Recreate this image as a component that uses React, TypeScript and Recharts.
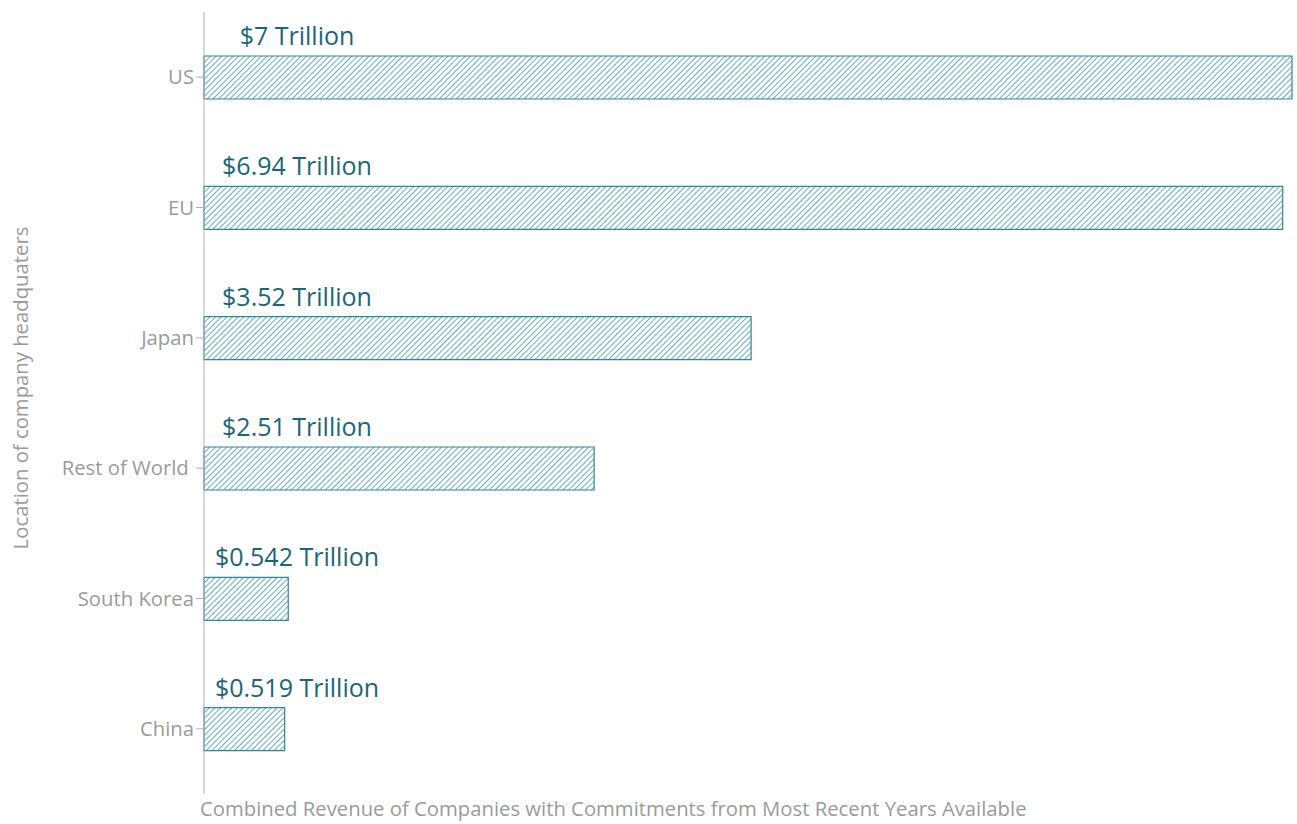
import React from "react";
import { Bar, BarChart, LabelList, XAxis, YAxis } from "recharts";

const regions = ["US", "EU", "Japan", "Rest of World\u00a0", "South Korea", "China"];
const revenue = [7, 6.94, 3.52, 2.51, 0.542, 0.519];
const revenueLabels = [
  "$7 Trillion",
  "$6.94 Trillion",
  "$3.52 Trillion",
  "$2.51 Trillion",
  "$0.542 Trillion",
  "$0.519 Trillion",
];

const data = regions.map((region, i) => ({
  region,
  revenue: revenue[i],
  label: revenueLabels[i],
}));

const FONT = "'Open Sans', Roboto, sans-serif";
const TEAL = "#2f8797";
const TEXT_TEAL = "#1b6576";
const GREY = "#9a9a9a";

const renderValueLabel = (props: any) => {
  const { x, y, value } = props;
  return (
    <text
      x={Number(x) + 93}
      y={Number(y) - 21}
      textAnchor="middle"
      dominantBaseline="central"
      fill={TEXT_TEAL}
      fontSize={25}
      fontFamily={FONT}
    >
      {value}
    </text>
  );
};

const renderYLabel = () => (
  <text
    x={20}
    y={388}
    transform="rotate(-90, 20, 388)"
    textAnchor="middle"
    dominantBaseline="central"
    fill={GREY}
    fontSize={20.3}
    fontFamily={FONT}
  >
    Location of company headquaters
  </text>
);

export default function App() {
  return (
    <div style={{ position: "absolute", left: 0, top: 0, background: "#fff" }}>
      <BarChart
        width={1297}
        height={824}
        data={data}
        layout="vertical"
        margin={{ top: 12, right: 5, bottom: 0, left: 0 }}
        barSize={43}
      >
        <defs>
          <pattern
            id="hatch"
            patternUnits="userSpaceOnUse"
            width={4}
            height={4}
            patternTransform="rotate(45)"
          >
            <rect width={4} height={4} fill="#ffffff" />
            <line x1={0} y1={0} x2={0} y2={4} stroke="#55a7b5" strokeWidth={1.8} />
          </pattern>
        </defs>
        <XAxis
          type="number"
          domain={[0, 7]}
          height={30}
          tick={false}
          axisLine={false}
          tickLine={false}
          label={{
            value:
              "Combined Revenue of Companies with Commitments from Most Recent Years Available",
            position: "insideLeft",
            offset: -4,
            fill: GREY,
            fontSize: 20.3,
            fontFamily: FONT,
          }}
        />
        <YAxis
          type="category"
          dataKey="region"
          width={204}
          axisLine={{ stroke: "#b0b0b0" }}
          tickLine={{ stroke: "#b0b0b0" }}
          tickSize={8}
          tick={{ fill: GREY, fontSize: 20.3, fontFamily: FONT }}
          label={{ content: renderYLabel }}
        />
        <Bar
          dataKey="revenue"
          fill="url(#hatch)"
          stroke={TEAL}
          strokeWidth={1.2}
          isAnimationActive={false}
        >
          <LabelList dataKey="label" content={renderValueLabel} />
        </Bar>
      </BarChart>
    </div>
  );
}
